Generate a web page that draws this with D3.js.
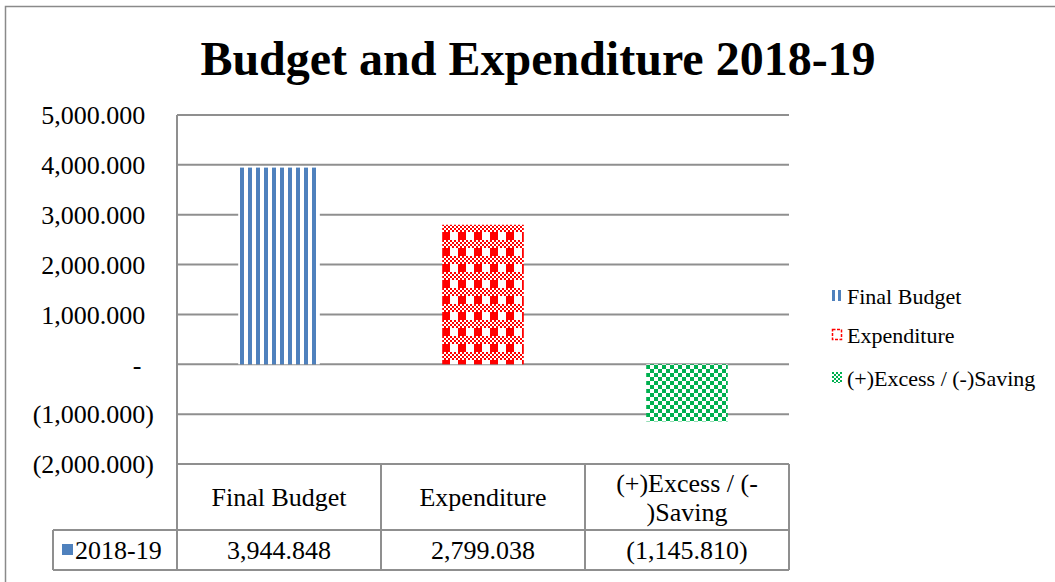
<!DOCTYPE html>
<html>
<head>
<meta charset="utf-8">
<script src="https://cdn.jsdelivr.net/npm/d3@7"></script>
<style>
  html, body { margin: 0; padding: 0; background: #fff; }
  svg { display: block; }
</style>
</head>
<body>
<svg id="chart" width="1055" height="582"></svg>
<script>
// Budget figures for 2018-19
const categories = ["Final Budget", "Expenditure", "(+)Excess / (-)Saving"];
const seriesName = "2018-19";
const values = [3944.848, 2799.038, -1145.810];
const yTicks = [5000, 4000, 3000, 2000, 1000, 0, -1000, -2000];
const chartTitle = "Budget and Expenditure 2018-19";

const colors = { blue: "#4F81BD", red: "#FF0000", green: "#00B050", grid: "#8f8f8f" };
const FONT = "'Liberation Serif', 'Times New Roman', Times, serif";

const svg = d3.select("#chart").style("font-family", FONT);
const W = 1055, H = 582;

const plot = { left: 177, right: 789, top: 115, bottom: 464 };
const tableRows = { header: 530, bottom: 570, labelLeft: 53 };

function txt(sel) {
  return sel.append("text").style("font-family", FONT).attr("fill", "#000");
}

// Fill patterns: vertical stripes, plaid, and checkerboard
const defs = svg.append("defs");

function stripePattern(id, x0, y0, w) {
  const p = defs.append("pattern").attr("id", id)
    .attr("patternUnits", "userSpaceOnUse").attr("width", w * 2).attr("height", 8).attr("x", x0).attr("y", y0);
  p.append("rect").attr("width", w * 2).attr("height", 8).attr("fill", "#fff");
  p.append("rect").attr("width", w).attr("height", 8).attr("fill", colors.blue);
}
function plaidPattern(id, x0, y0, s) {
  const p = defs.append("pattern").attr("id", id)
    .attr("patternUnits", "userSpaceOnUse").attr("width", 8 * s).attr("height", 8 * s).attr("x", x0).attr("y", y0);
  p.append("rect").attr("width", 8 * s).attr("height", 8 * s).attr("fill", "#fff");
  for (let r = 0; r < 4; r++) {
    for (let c = 0; c < 8; c++) {
      if ((r + c) % 2 === 0) {
        p.append("rect").attr("x", c * s).attr("y", r * s).attr("width", s).attr("height", s).attr("fill", colors.red);
      }
    }
  }
  p.append("rect").attr("x", 0).attr("y", 4 * s).attr("width", 4 * s).attr("height", 4 * s).attr("fill", colors.red);
}
function checkPattern(id, x0, y0, s) {
  const p = defs.append("pattern").attr("id", id)
    .attr("patternUnits", "userSpaceOnUse").attr("width", 2 * s).attr("height", 2 * s).attr("x", x0).attr("y", y0);
  p.append("rect").attr("width", 2 * s).attr("height", 2 * s).attr("fill", "#fff");
  p.append("rect").attr("x", 0).attr("y", 0).attr("width", s).attr("height", s).attr("fill", colors.green);
  p.append("rect").attr("x", s).attr("y", s).attr("width", s).attr("height", s).attr("fill", colors.green);
}

stripePattern("pat-stripe", 240, 0, 4);
plaidPattern("pat-plaid", 442, 0, 2);
checkPattern("pat-check", 646, 365, 4);

const fills = ["url(#pat-stripe)", "url(#pat-plaid)", "url(#pat-check)"];

// Chart frame
svg.append("rect").attr("x", 5.5).attr("y", 6.5).attr("width", W + 10).attr("height", H + 10)
  .attr("fill", "none").attr("stroke", "#8a8a8a").attr("stroke-width", 1.5);

// Title
txt(svg).attr("x", 538).attr("y", 75).attr("text-anchor", "middle")
  .style("font-size", "48px").style("font-weight", "bold").text(chartTitle);

// Scales
const y = d3.scaleLinear().domain([-2000, 5000]).range([plot.bottom, plot.top]);
const x = d3.scaleBand().domain(categories).range([plot.left, plot.right])
  .paddingInner(0.6).paddingOuter(0.3);
const step = x.step();

// Gridlines
svg.append("g").selectAll("line").data(yTicks).join("line")
  .attr("x1", plot.left).attr("x2", plot.right)
  .attr("y1", d => y(d)).attr("y2", d => y(d))
  .attr("stroke", colors.grid).attr("stroke-width", 2);

// Y axis labels in accounting style
const fmt = d3.format(",.3f");
const axisFont = 26;
const parenPad = axisFont * 0.333;
const yAxis = d3.axisLeft(y).tickValues(yTicks).tickSize(0).tickPadding(0)
  .tickFormat(d => d === 0 ? "-" : d < 0 ? "(" + fmt(-d) + ")" : fmt(d));
const gAxis = svg.append("g").attr("transform", `translate(154,0)`).call(yAxis);
gAxis.select(".domain").remove();
gAxis.selectAll("text")
  .style("font-family", FONT)
  .style("font-size", axisFont + "px").attr("fill", "#000")
  .attr("dy", "0.34em")
  .attr("x", d => d < 0 ? 0 : (d === 0 ? -parenPad - 4 : -parenPad));

// Bars
svg.append("g").selectAll("rect").data(values).join("rect")
  .attr("x", (d, i) => x(categories[i]))
  .attr("width", x.bandwidth())
  .attr("y", d => y(Math.max(0, d)))
  .attr("height", d => Math.abs(y(d) - y(0)))
  .attr("fill", (d, i) => fills[i]);

// Vertical axis line extended through the data table
svg.append("line").attr("x1", plot.left).attr("x2", plot.left)
  .attr("y1", plot.top).attr("y2", tableRows.bottom)
  .attr("stroke", colors.grid).attr("stroke-width", 2);

// Data table grid
const tbl = svg.append("g").attr("stroke", colors.grid).attr("stroke-width", 2);
[tableRows.header, tableRows.bottom].forEach(yy => {
  tbl.append("line").attr("x1", tableRows.labelLeft).attr("x2", plot.right).attr("y1", yy).attr("y2", yy);
});
tbl.append("line").attr("x1", tableRows.labelLeft).attr("x2", tableRows.labelLeft)
  .attr("y1", tableRows.header).attr("y2", tableRows.bottom);
categories.forEach(c => {
  const xr = x(c) - step * 0.3 + step;
  tbl.append("line").attr("x1", xr).attr("x2", xr).attr("y1", plot.bottom).attr("y2", tableRows.bottom);
});

// Table header with wrapping
const cellFont = 26;
const measurer = txt(svg).style("font-size", cellFont + "px").attr("visibility", "hidden");
function textWidth(s) { measurer.text(s); return measurer.node().getComputedTextLength(); }
function wrap(s, maxW) {
  const parts = s.split(/(?<=[ \-])/);
  const lines = [];
  let cur = "";
  parts.forEach(p => {
    if (cur && textWidth((cur + p).trimEnd()) > maxW) { lines.push(cur.trimEnd()); cur = p; }
    else cur += p;
  });
  if (cur) lines.push(cur.trimEnd());
  return lines;
}
categories.forEach(c => {
  const cx = x(c) + x.bandwidth() / 2;
  const lines = wrap(c, step - 14);
  const midY = (plot.bottom + tableRows.header) / 2;
  const lh = 29;
  lines.forEach((ln, i) => {
    txt(svg).attr("x", cx).attr("y", midY + (i - (lines.length - 1) / 2) * lh)
      .attr("dy", "0.35em").attr("text-anchor", "middle")
      .style("font-size", cellFont + "px").text(ln);
  });
});
measurer.remove();

// Table values row
const rowMid = (tableRows.header + tableRows.bottom) / 2;
values.forEach((v, i) => {
  const cx = x(categories[i]) + x.bandwidth() / 2;
  txt(svg).attr("x", cx).attr("y", rowMid).attr("dy", "0.35em").attr("text-anchor", "middle")
    .style("font-size", cellFont + "px").text(v < 0 ? "(" + fmt(-v) + ")" : fmt(v));
});
svg.append("rect").attr("x", 62).attr("y", rowMid - 6).attr("width", 11).attr("height", 11).attr("fill", colors.blue);
txt(svg).attr("x", 75).attr("y", rowMid).attr("dy", "0.35em")
  .style("font-size", cellFont + "px").text(seriesName);

// Legend with small-scale keys
const legendY = [296, 335, 378];
const keyX = 832, keyW = 10, keyH = 11;
stripePattern("key-stripe", keyX, 0, 3);
plaidPattern("key-plaid", keyX, legendY[1] - 6, 1);
checkPattern("key-check", keyX, legendY[2] - 6, 2);
const keyFills = ["url(#key-stripe)", "url(#key-plaid)", "url(#key-check)"];
const lg = svg.append("g");
categories.forEach((c, i) => {
  const k = lg.append("rect").attr("x", keyX).attr("y", legendY[i] - 6).attr("width", keyW).attr("height", keyH)
    .attr("fill", i === 1 ? "#fff" : keyFills[i]);
  if (i === 1) {
    k.attr("x", keyX + 0.5).attr("y", legendY[i] - 5.5).attr("width", keyW - 1).attr("height", keyH - 1)
      .attr("stroke", colors.red).attr("stroke-width", 1.5).attr("stroke-dasharray", "3,1.5");
  }
  txt(lg).attr("x", 847).attr("y", legendY[i]).attr("dy", "0.35em")
    .style("font-size", "22px").text(c);
});
</script>
</body>
</html>
